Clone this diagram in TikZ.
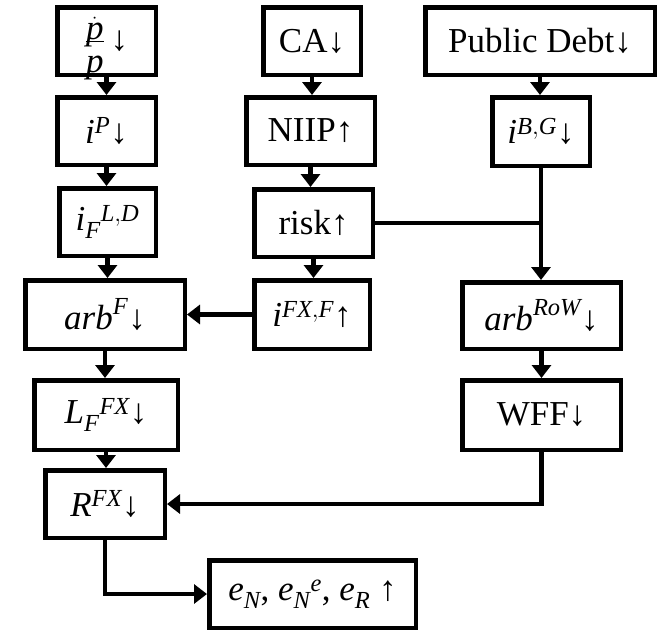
\documentclass[tikz,border=0pt]{standalone}
\usepackage{fontspec}
\setmainfont{Liberation Serif}
\usetikzlibrary{arrows.meta}
\newcommand\mi[1]{\mathit{#1}}
% a lowered, height-free piece of a fraction
\newcommand\lowpiece[2]{\smash{\raisebox{#1}{$#2$}}}

\begin{document}
\begin{tikzpicture}[x=1pt,y=-1pt,
  box/.style={draw, line width=4.5pt, rectangle, inner sep=0pt,
    align=center, font=\fontsize{35}{40}\selectfont},
  link/.style={line width=4.5pt},
  arr/.style={link, -{Triangle[width=19pt,length=13pt]}}]
\useasboundingbox (0,0) rectangle (661,632);

% left column
\node[box, minimum width=98.5pt, minimum height=67.5pt] (pp)   at (106.5,41)
  {\smash{\raisebox{3pt}{$\displaystyle\frac{\lowpiece{-9pt}{\dot{\mi p}}}{\lowpiece{-8pt}{\mi p}}$}}\,↓};
\node[box, minimum width=98.5pt, minimum height=67.5pt] (iP)   at (106.5,131) {$\mi i^{\mi P}$↓};
\node[box, minimum width=96.5pt, minimum height=67.5pt] (iF)   at (107.5,222) {$\mi i_{\mi F}{}^{\mi L,\mi D}$};
\node[box, minimum width=159.5pt, minimum height=68.5pt] (arbF) at (105,314.5) {$\mi{arb}^{\mi F}$↓};
\node[box, minimum width=143.5pt, minimum height=69.5pt] (LF)   at (106,415)   {$\mi L_{\mi F}{}^{\mi{FX}}$↓};
\node[box, minimum width=119.5pt, minimum height=67.5pt] (RFX)  at (105,504)   {$\mi R^{\mi{FX}}$↓};
\node[box, minimum width=206.5pt, minimum height=67.5pt] (e)    at (312.5,594) {$\mi e_{\mi N}$, $\mi e_{\mi N}{}^{\mi e}$, $\mi e_{\mi R}$ ↑};

% middle column
\node[box, minimum width=97.5pt, minimum height=67.5pt] (CA)   at (312,41)    {CA↓};
\node[box, minimum width=128.5pt, minimum height=67.5pt] (NIIP) at (310.5,131) {NIIP↑};
\node[box, minimum width=118.5pt, minimum height=67.5pt] (risk) at (313.5,223) {risk↑};
\node[box, minimum width=115.5pt, minimum height=68.5pt] (iFX)  at (312,314.5) {$\mi i^{\mi{FX},\mi F}$↑};

% right column
\node[box, minimum width=229.5pt, minimum height=67.5pt] (PD)   at (540,41)    {Public Debt↓};
\node[box, minimum width=97.5pt, minimum height=68.5pt] (iBG)  at (541,131.5) {$\mi i^{\mi B,\mi G}$↓};
\node[box, minimum width=158.5pt, minimum height=66.5pt] (arbR) at (541.5,315.5) {$\mi{arb}^{\mi{RoW}}$↓};
\node[box, minimum width=158.5pt, minimum height=69.5pt] (WFF)  at (541.5,415) {WFF↓};

% connectors
\draw[arr] (pp.south) -- (pp.south |- iP.north);
\draw[arr] (iP.south) -- (iP.south |- iF.north);
\draw[arr] (iF.south) -- (iF.south |- arbF.north);
\draw[arr] (arbF.south) -- (arbF.south |- LF.north);
\draw[arr] (LF.south) -- (LF.south |- RFX.north);

\draw[arr] (CA.south) -- (CA.south |- NIIP.north);
\draw[arr] (NIIP.south) -- (NIIP.south |- risk.north);
\draw[arr] (risk.south) -- (risk.south |- iFX.north);
\draw[arr] (iFX.west) -- (arbF.east |- iFX.west);

\draw[arr] (PD.south) -- (PD.south |- iBG.north);
\draw[arr] (iBG.south) -- (iBG.south |- arbR.north);
\draw[link] (risk.east) -- (risk.east -| iBG.south);
\draw[arr] (arbR.south) -- (arbR.south |- WFF.north);

\draw[arr] (WFF.south) |- (RFX.east);
\draw[arr] (RFX.south) |- (e.west);
\end{tikzpicture}
\end{document}
